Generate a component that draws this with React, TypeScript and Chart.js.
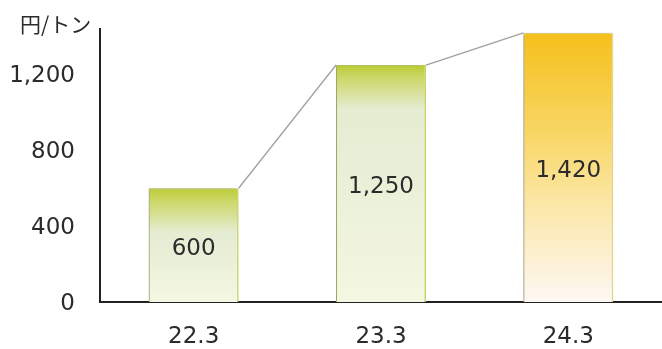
import React, { useEffect, useRef } from "react";
import { Chart, registerables } from "chart.js";

Chart.register(...registerables);

const categories = ["22.3", "23.3", "24.3"];
const values = [600, 1250, 1420];
const yTicks = [0, 400, 800, 1200];
const unitLabel = "円/トン";

const TEXT = "#2b2b2b";
const NUM_FONT = "'DejaVu Sans', Verdana, sans-serif";

function barGradient(ctx: any) {
  const chart = ctx.chart;
  const ys = chart.scales?.y;
  const i = ctx.dataIndex;
  if (!ys || i === undefined) return "#dfe8c0";
  const top = ys.getPixelForValue(values[i]);
  const bottom = ys.getPixelForValue(0);
  if (!isFinite(top) || !isFinite(bottom) || bottom - top < 1) return "#dfe8c0";
  const g = chart.ctx.createLinearGradient(0, top, 0, bottom);
  if (i === 2) {
    g.addColorStop(0, "#f5c01c");
    g.addColorStop(0.35, "#f8d560");
    g.addColorStop(0.65, "#fbe7aa");
    g.addColorStop(1, "#fdf8f4");
  } else {
    const h = bottom - top;
    const s1 = Math.min(0.9, 14 / h);
    const s2 = Math.min(0.95, 44 / h);
    g.addColorStop(0, "#bccb36");
    g.addColorStop(s1, "#cdd86c");
    g.addColorStop(s2, "#e4ecd2");
    g.addColorStop(1, "#f4f7e2");
  }
  return g;
}

const overlayPlugin = {
  id: "overlay",
  beforeDatasetsDraw(chart: any) {
    const ctx = chart.ctx;
    ctx.save();
    ctx.shadowColor = "rgba(110,110,110,0.6)";
    ctx.shadowBlur = 3;
    ctx.shadowOffsetX = -2;
    ctx.shadowOffsetY = 0;
  },
  afterDatasetsDraw(chart: any) {
    const ctx = chart.ctx;
    ctx.restore();
    const meta = chart.getDatasetMeta(0);
    const els = meta.data;
    ctx.save();
    ctx.strokeStyle = "#a0a0a0";
    ctx.lineWidth = 1.3;
    for (let i = 0; i < els.length - 1; i++) {
      const a = els[i];
      const b = els[i + 1];
      ctx.beginPath();
      ctx.moveTo(a.x + a.width / 2, a.y);
      ctx.lineTo(b.x - b.width / 2, b.y);
      ctx.stroke();
    }
    ctx.restore();
    ctx.save();
    ctx.fillStyle = TEXT;
    ctx.font = `23px ${NUM_FONT}`;
    ctx.textAlign = "center";
    ctx.textBaseline = "middle";
    els.forEach((el: any, i: number) => {
      const mid = (el.y + el.base) / 2 + 4;
      ctx.fillText(values[i].toLocaleString("en-US"), el.x, mid);
    });
    ctx.restore();
  },
  afterDraw(chart: any) {
    const ctx = chart.ctx;
    ctx.save();
    ctx.fillStyle = TEXT;
    ctx.font = `21px 'Noto Sans CJK JP', sans-serif`;
    ctx.textAlign = "left";
    ctx.textBaseline = "middle";
    ctx.fillText(unitLabel, 20, 24);
    ctx.restore();
  },
};

export default function App() {
  const ref = useRef<HTMLCanvasElement | null>(null);
  useEffect(() => {
    document.body.style.margin = "0";
    const canvas = ref.current!;
    const chart = new Chart(canvas, {
      type: "bar",
      data: {
        labels: categories,
        datasets: [
          {
            data: values,
            backgroundColor: barGradient as any,
            borderColor: (c: any) => (c.dataIndex === 2 ? "#e6d98a" : "#c8d45a"),
            borderWidth: { left: 1, right: 1.5, top: 1, bottom: 0 } as any,
            borderSkipped: false,
            barPercentage: 0.96,
            categoryPercentage: 0.5,
          },
        ],
      },
      plugins: [overlayPlugin],
      options: {
        animation: false,
        responsive: false,
        maintainAspectRatio: false,
        layout: { padding: { top: 29, right: 0, left: 0, bottom: 0 } },
        plugins: {
          legend: { display: false },
          tooltip: { enabled: false },
          title: { display: false },
        },
        scales: {
          x: {
            grid: { display: false, drawTicks: false },
            border: { display: true, color: "#222", width: 2 },
            ticks: {
              color: TEXT,
              font: { size: 23, family: NUM_FONT },
              padding: 21,
            },
            afterFit: (s: any) => {
              s.height = 47;
              s.paddingLeft = 0;
              s.paddingRight = 0;
            },
          },
          y: {
            min: 0,
            max: 1440,
            grid: { display: false, drawTicks: false },
            border: { display: true, color: "#222", width: 2 },
            ticks: {
              color: TEXT,
              font: { size: 23, family: NUM_FONT },
              padding: 25,
              labelOffset: 2,
              callback: (v: any) => Number(v).toLocaleString("en-US"),
            },
            afterBuildTicks: (s: any) => {
              s.ticks = yTicks.map((v) => ({ value: v }));
            },
            afterFit: (s: any) => {
              s.width = 100;
              s.paddingTop = 0;
              s.paddingBottom = 0;
            },
          },
        },
      },
    });
    chart.update();
    return () => chart.destroy();
  }, []);
  return (
    <div style={{ width: 662, height: 349 }}>
      <canvas ref={ref} width={662} height={349} style={{ display: "block" }} />
    </div>
  );
}
